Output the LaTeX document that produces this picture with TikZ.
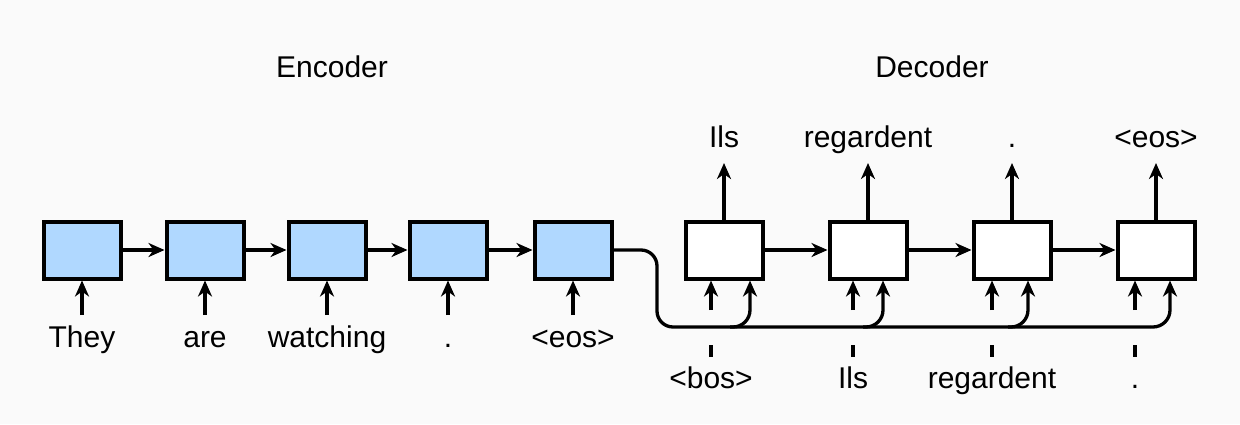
\documentclass[tikz,border=0pt]{standalone}
\usepackage{fontspec}
\setmainfont{Liberation Sans}
\usetikzlibrary{arrows.meta}
\usepackage{xcolor}
\definecolor{cellblue}{RGB}{176,216,255}
\definecolor{bggray}{RGB}{250,250,250}
\tikzset{
    cell/.style={draw, line width=4pt, minimum width=77pt, minimum height=57pt, inner sep=0pt},
    enccell/.style={cell, fill=cellblue},
    deccell/.style={cell, fill=white},
    word/.style={anchor=base, inner sep=0pt, font=\fontsize{30}{36}\selectfont},
    flow/.style={line width=3.3pt, -{Stealth[length=16pt,width=14pt,inset=5pt]}},
    wire/.style={line width=3.3pt}
}

\begin{document}
\begin{tikzpicture}[x=1pt,y=-1pt]
    \useasboundingbox (0,0) rectangle (1240,424);
    \fill[bggray] (0,0) rectangle (1240,424);
    \node[word] (enctitle) at (332,77) {Encoder};
    \node[word] (dectitle) at (932,77) {Decoder};
    % encoder side
    \foreach \i/\x/\w in {1/82/They, 2/205/are, 3/327/watching, 4/448/., 5/573/<eos>} {
        \node[enccell] (enc\i) at (\x,250) {};
        \node[word] (src\i) at (\x,347) {\w};
        \coordinate (srcin\i) at (\x,315);
        \draw[flow] (srcin\i) -- (enc\i);
    }
    \foreach \i/\j in {1/2, 2/3, 3/4, 4/5}
        \draw[flow] (enc\i) -- (enc\j);
    % decoder side
    \foreach \i/\x/\out/\inp/\l/\r in {1/724/Ils/<bos>/711/750, 2/868/regardent/Ils/853/883,
                                       3/1012/./regardent/992/1028, 4/1156/<eos>/./1135/1170} {
        \node[deccell] (dec\i) at (\x,250) {};
        \node[word] (tgt\i) at (\x,147) {\out};
        \coordinate (tgtout\i) at (\x,163);
        \draw[flow] (dec\i) -- (tgtout\i);
        \node[word] (prev\i) at (\l,388) {\inp};
        \coordinate (tick\i) at (\l,345);
        \draw[wire] (tick\i) -- ++(0,12);
        \coordinate (previn\i) at (\l,310);
        \draw[flow] (previn\i) -- (dec\i.south -| previn\i);
        \coordinate (tap\i) at (\r,327);
        \draw[flow, rounded corners=17pt] ([xshift=-20pt]tap\i) -| (dec\i.south -| tap\i);
    }
    \foreach \i/\j in {1/2, 2/3, 3/4}
        \draw[flow] (dec\i) -- (dec\j);
    % state handed to the decoder
    \coordinate (bend) at (657,327);
    \draw[wire, rounded corners=16pt] (enc5.east) -| (bend) -- ([xshift=-20pt]tap4);
\end{tikzpicture}
\end{document}
